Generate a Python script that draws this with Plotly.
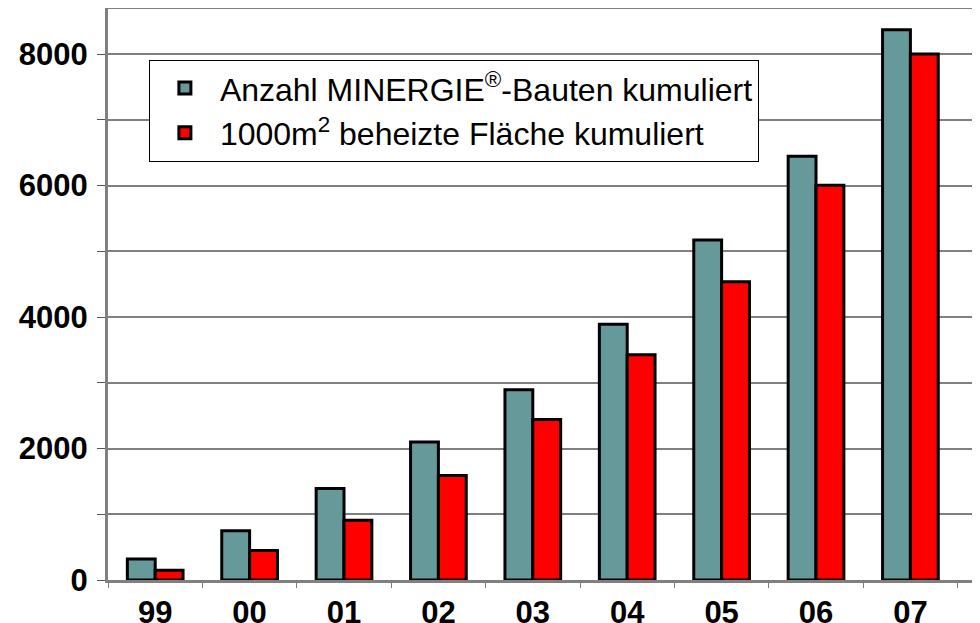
import plotly.graph_objects as go

years = ["99", "00", "01", "02", "03", "04", "05", "06", "07"]
bauten = [320, 750, 1390, 2100, 2895, 3890, 5170, 6445, 8370]
flaeche = [150, 450, 910, 1590, 2440, 3425, 4535, 6005, 8000]
y_ticks = [0, 2000, 4000, 6000, 8000]
name_bauten = "Anzahl MINERGIE<sup>®</sup>-Bauten kumuliert"
name_flaeche = "1000m<sup>2</sup> beheizte Fläche kumuliert"

fig = go.Figure()
fig.add_trace(go.Bar(x=years, y=bauten, name=name_bauten,
                     marker=dict(color="#669999", line=dict(color="black", width=3))))
fig.add_trace(go.Bar(x=years, y=flaeche, name=name_flaeche,
                     marker=dict(color="#FF0000", line=dict(color="black", width=3))))

# page body has an 8px default margin, so the figure is sized/offset accordingly
fig.update_layout(
    width=972, height=615,
    margin=dict(l=100, r=2, t=1, b=43, autoexpand=False),
    plot_bgcolor="white", paper_bgcolor="white",
    barmode="group", bargap=0.41, bargroupgap=0,
    font=dict(family="Liberation Sans, Arial, sans-serif", color="black"),
    legend=dict(x=0.047, y=0.911, xanchor="left", yanchor="top",
                bgcolor="white", bordercolor="black", borderwidth=1,
                font=dict(size=32, family="Liberation Sans, Arial, sans-serif"),
                itemwidth=60, tracegroupgap=0),
    showlegend=True,
)
fig.update_xaxes(
    type="category", range=[-0.5, 8.716], automargin=False,
    showline=True, linecolor="#808080", linewidth=3, mirror=True,
    ticks="outside", tickson="boundaries", ticklen=5, tickcolor="#808080", tickwidth=1,
    tickfont=dict(size=31, family="Liberation Sans, Arial, sans-serif", weight="bold"),
    ticklabelstandoff=3,
    showgrid=False,
)
fig.update_yaxes(
    range=[0, 8685], automargin=False,
    tickvals=y_ticks, ticktext=[str(v) for v in y_ticks],
    showline=True, linecolor="#808080", linewidth=3,
    ticks="outside", ticklen=8, tickcolor="#555555", tickwidth=1,
    tickfont=dict(size=31, family="Liberation Sans, Arial, sans-serif", weight="bold"),
    ticklabelstandoff=3,
    showgrid=True, gridcolor="#808080", gridwidth=1.5,
    minor=dict(dtick=1000, tick0=0, showgrid=True, gridcolor="#808080", gridwidth=1.5,
               ticks="outside", ticklen=8, tickcolor="#555555"),
    zeroline=False,
)

fig.write_html("out.html")
